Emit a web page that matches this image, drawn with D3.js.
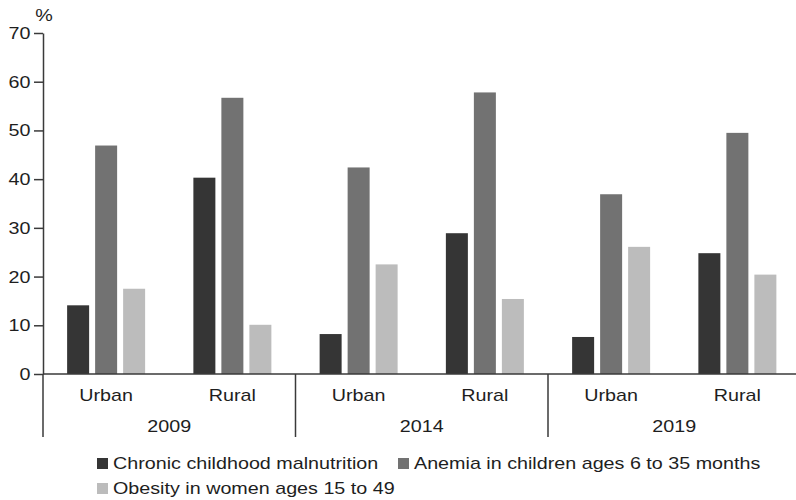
<!DOCTYPE html>
<html><head><meta charset="utf-8">
<script src="https://cdn.jsdelivr.net/npm/d3@7"></script>
<style>html,body{margin:0;padding:0;background:#fff;}svg{display:block;}</style>
</head><body>
<script>
const years = ["2009", "2014", "2019"];
const areas = ["Urban", "Rural"];
const seriesNames = ["Chronic childhood malnutrition", "Anemia in children ages 6 to 35 months", "Obesity in women ages 15 to 49"];
// order: 2009 Urban, 2009 Rural, 2014 Urban, 2014 Rural, 2019 Urban, 2019 Rural
const malnutrition = [14.1, 40.3, 8.2, 28.9, 7.6, 24.8];
const anemia = [46.9, 56.7, 42.4, 57.8, 36.9, 49.5];
const obesity = [17.5, 10.1, 22.5, 15.4, 26.1, 20.4];
const yTicks = [0, 10, 20, 30, 40, 50, 60, 70];
const colors = ["#353535", "#727272", "#bcbcbc"];

const W = 796, H = 500;
const FS = 17, SX = 1.16;
const FONT = "'Liberation Sans', Arial, Helvetica, sans-serif";
const TXT = "#1e1e1e", AX = "#3a3a3a";

const svg = d3.select("body").append("svg").attr("width", W).attr("height", H)
  .style("font-family", FONT);

const x0 = 43, xEnd = 800.5, yBase = 374, yTop = 33;
const y = d3.scaleLinear().domain([0, 70]).range([yBase, yTop]);
const xYear = d3.scaleBand().domain(years).range([x0, xEnd]).padding(0);
const xArea = d3.scaleBand().domain(areas).range([0, xYear.bandwidth()]).padding(0);
const xSer = d3.scaleBand().domain(seriesNames).range([-42, 42]).paddingInner(6/28).paddingOuter(3/28);

const seriesVals = [malnutrition, anemia, obesity];
const rows = [];
years.forEach((yr, i) => areas.forEach((ar, j) => {
  const k = i * areas.length + j;
  seriesNames.forEach((s, si) => rows.push({yr, ar, s, si, v: seriesVals[si][k]}));
}));

function label(g, x, yy, text, anchor) {
  return g.append("text")
    .attr("transform", `translate(${x},${yy}) scale(${SX},1)`)
    .attr("text-anchor", anchor || "middle")
    .attr("font-size", FS).attr("fill", TXT).text(text);
}

// bars
svg.append("g").selectAll("rect").data(rows).join("rect")
  .attr("x", d => xYear(d.yr) + xArea(d.ar) + xArea.bandwidth() / 2 + xSer(d.s))
  .attr("width", xSer.bandwidth())
  .attr("y", d => y(d.v))
  .attr("height", d => y(0) - y(d.v))
  .attr("fill", d => colors[d.si]);

// y axis
const yAxis = svg.append("g").attr("transform", `translate(${x0},0)`)
  .call(d3.axisLeft(y).tickValues(yTicks).tickSize(9).tickSizeOuter(0).tickPadding(2));
yAxis.select(".domain").attr("stroke", AX).attr("stroke-width", 1.5);
yAxis.selectAll(".tick line").attr("stroke", AX).attr("stroke-width", 1.5);
yAxis.selectAll(".tick text")
  .attr("font-size", FS).attr("font-family", FONT).attr("fill", TXT)
  .attr("x", -12.5 / SX).attr("transform", `scale(${SX},1)`);

label(svg, 44, 21, "%");

// x axis baseline
svg.append("line").attr("x1", x0).attr("x2", W).attr("y1", yBase).attr("y2", yBase)
  .attr("stroke", AX).attr("stroke-width", 1.5);

// group dividers
svg.append("g").selectAll("line").data(years).join("line")
  .attr("x1", d => xYear(d)).attr("x2", d => xYear(d))
  .attr("y1", yBase).attr("y2", 437)
  .attr("stroke", AX).attr("stroke-width", 1.5);

// area and year labels
const xl = svg.append("g");
years.forEach(yr => {
  areas.forEach(ar => label(xl, xYear(yr) + xArea(ar) + xArea.bandwidth() / 2, 401, ar));
  label(xl, xYear(yr) + xYear.bandwidth() / 2, 432, yr);
});

// legend
const legendPos = [[97, 469], [398, 469], [97, 494]];
const lg = svg.append("g");
seriesNames.forEach((s, i) => {
  const [lx, ly] = legendPos[i];
  lg.append("rect").attr("x", lx).attr("y", ly - 11).attr("width", 11).attr("height", 11)
    .attr("fill", colors[i]);
  label(lg, lx + 16, ly, s, "start");
});
</script>
</body></html>
